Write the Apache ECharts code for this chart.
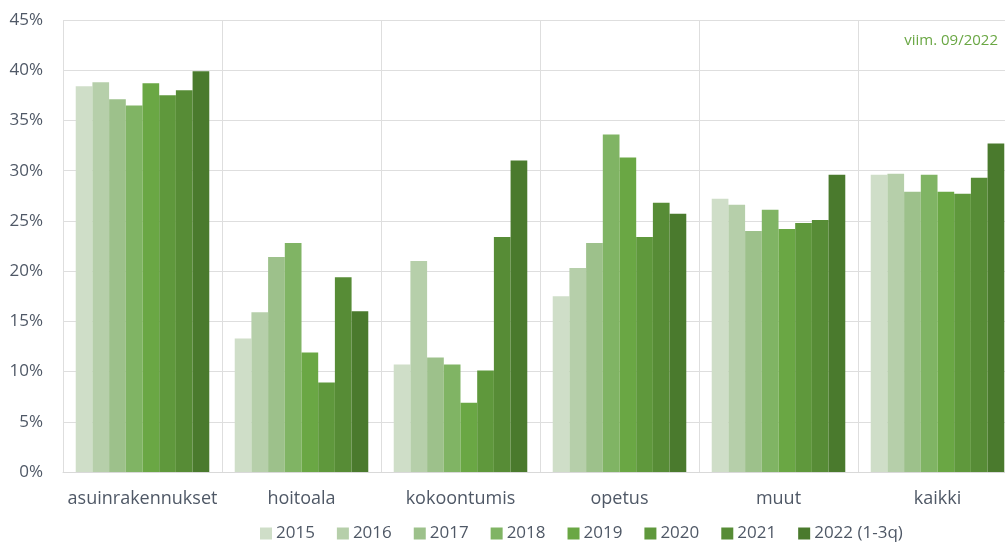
<!DOCTYPE html>
<html>
<head>
<meta charset="utf-8">
<script src="https://cdn.jsdelivr.net/npm/echarts@6/dist/echarts.min.js"></script>
<style>
  html, body { margin: 0; padding: 0; background: #fff; overflow: hidden; }
  #chart { width: 1017px; height: 547px; }
</style>
</head>
<body>
<div id="chart"></div>
<script>
const categories = ['asuinrakennukset', 'hoitoala', 'kokoontumis', 'opetus', 'muut', 'kaikki'];
const years = ['2015', '2016', '2017', '2018', '2019', '2020', '2021', '2022 (1-3q)'];

// share per year, one array per category (%)
const asuinrakennukset = [38.4, 38.8, 37.1, 36.5, 38.7, 37.5, 38.0, 39.9];
const hoitoala = [13.3, 15.9, 21.4, 22.8, 11.9, 8.9, 19.4, 16.0];
const kokoontumis = [10.7, 21.0, 11.4, 10.7, 6.9, 10.1, 23.4, 31.0];
const opetus = [17.5, 20.3, 22.8, 33.6, 31.3, 23.4, 26.8, 25.7];
const muut = [27.2, 26.6, 24.0, 26.1, 24.2, 24.8, 25.1, 29.6];
const kaikki = [29.6, 29.7, 27.9, 29.6, 27.9, 27.7, 29.3, 32.7];

const byCategory = [asuinrakennukset, hoitoala, kokoontumis, opetus, muut, kaikki];
const colors = ['#cfdec8', '#b6cfaa', '#9dc18b', '#80b464', '#6aa744', '#5f983c', '#578c36', '#4a7a2d'];

const textColor = '#4f5866';
const font = 'Open Sans';

// the original chart is cut off on the right, so the canvas is a bit wider than the window
const chart = echarts.init(document.getElementById('chart'));

const option = {
    animation: false,
    color: colors,
    grid: {
        left: 63,
        top: 20,
        bottom: 75,
        right: 0
    },
    legend: {
        left: 255,
        bottom: 0,
        itemWidth: 12,
        itemHeight: 12,
        itemGap: 22,
        icon: 'rect',
        textStyle: { color: textColor, fontSize: 17, fontFamily: font, padding: [0, 0, 0, -1] },
        data: years
    },
    xAxis: {
        type: 'category',
        data: categories,
        axisTick: { show: false },
        axisLine: { lineStyle: { color: '#d9d9d9' } },
        axisLabel: { interval: 0, color: textColor, fontSize: 18, fontFamily: font, margin: 18 },
        splitLine: { show: true, interval: 0, lineStyle: { color: '#dedede' } }
    },
    yAxis: {
        type: 'value',
        min: 0,
        max: 45,
        interval: 5,
        axisLabel: { formatter: '{value}%', color: textColor, fontSize: 17, fontFamily: font, margin: 20 },
        splitLine: { lineStyle: { color: '#dedede' } }
    },
    graphic: [{
        type: 'text',
        right: 19,
        top: 33,
        style: { text: 'viim. 09/2022', fill: '#6aa744', fontSize: 15, fontFamily: font }
    }],
    series: years.map((y, i) => ({
        name: y,
        type: 'bar',
        barGap: '0%',
        barCategoryGap: '16%',
        data: byCategory.map(c => c[i])
    }))
};

chart.setOption(option);
</script>
</body>
</html>
